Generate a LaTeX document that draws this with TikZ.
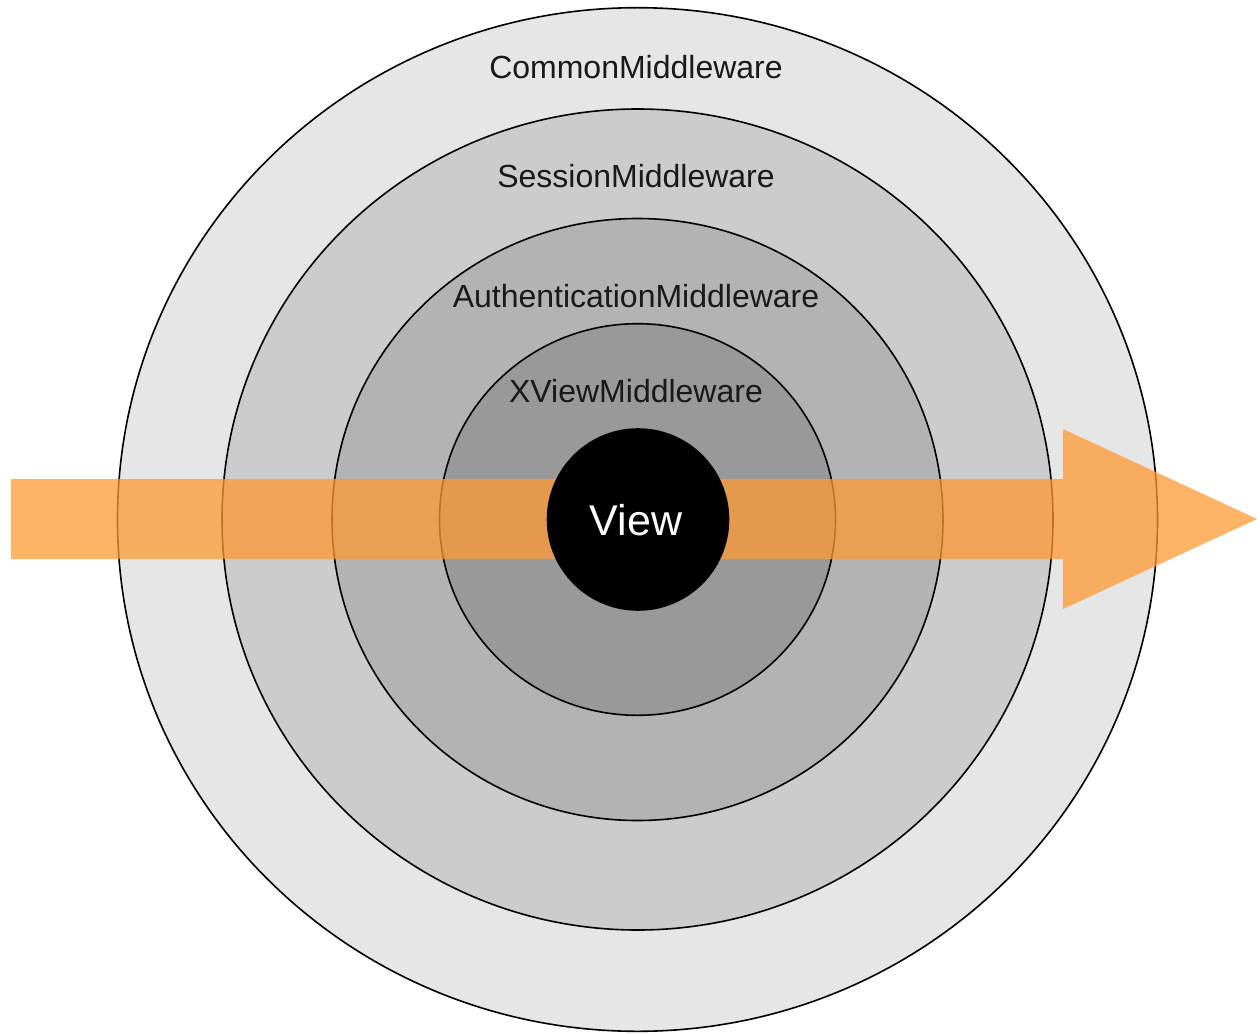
\documentclass[tikz,border=0pt]{standalone}
\usepackage{fontspec}
\setmainfont{Liberation Sans}
\definecolor{ringA}{HTML}{E6E6E6}
\definecolor{ringB}{HTML}{CCCCCC}
\definecolor{ringC}{HTML}{B3B3B3}
\definecolor{ringD}{HTML}{999999}
\definecolor{flow}{HTML}{FF9933}
\tikzset{
  ring/.style={draw=black, line width=1.6pt},
  lbl/.style={anchor=base, inner sep=0pt, font=\fontsize{32}{38}\selectfont, text=black!90},
  flowarrow/.style={fill=flow, fill opacity=0.75, draw=none},
}
\begin{document}
\begin{tikzpicture}[x=1pt,y=-1pt]
\useasboundingbox (0,0) rectangle (1257,1033);
\coordinate (c) at (637.5,519.5);
\draw[ring, fill=ringA] (c) ellipse [x radius=520, y radius=511.8];
\draw[ring, fill=ringB] (c) ellipse [x radius=415.5, y radius=410.5];
\draw[ring, fill=ringC] (c) ellipse [x radius=305.5, y radius=301];
\draw[ring, fill=ringD] (c) ellipse [x radius=198, y radius=195.8];
\node[lbl] (tcommon) at (636,78) {CommonMiddleware};
\node[lbl] (tsession) at (636,187) {SessionMiddleware};
\node[lbl] (tauth) at (636,307) {AuthenticationMiddleware};
\node[lbl] (txview) at (636,402) {XViewMiddleware};
\fill[flowarrow] (11,479) -- (1063,479) -- (1063,429) -- (1257,519) -- (1063,609) -- (1063,559) -- (11,559) -- cycle;
\node[circle, fill=black, minimum size=182.6pt, inner sep=0pt] (view) at (638,519.5) {};
\node[anchor=base, inner sep=0pt, text=white, font=\fontsize{43}{50}\selectfont] (tview) at (636,535) {View};
\end{tikzpicture}
\end{document}
